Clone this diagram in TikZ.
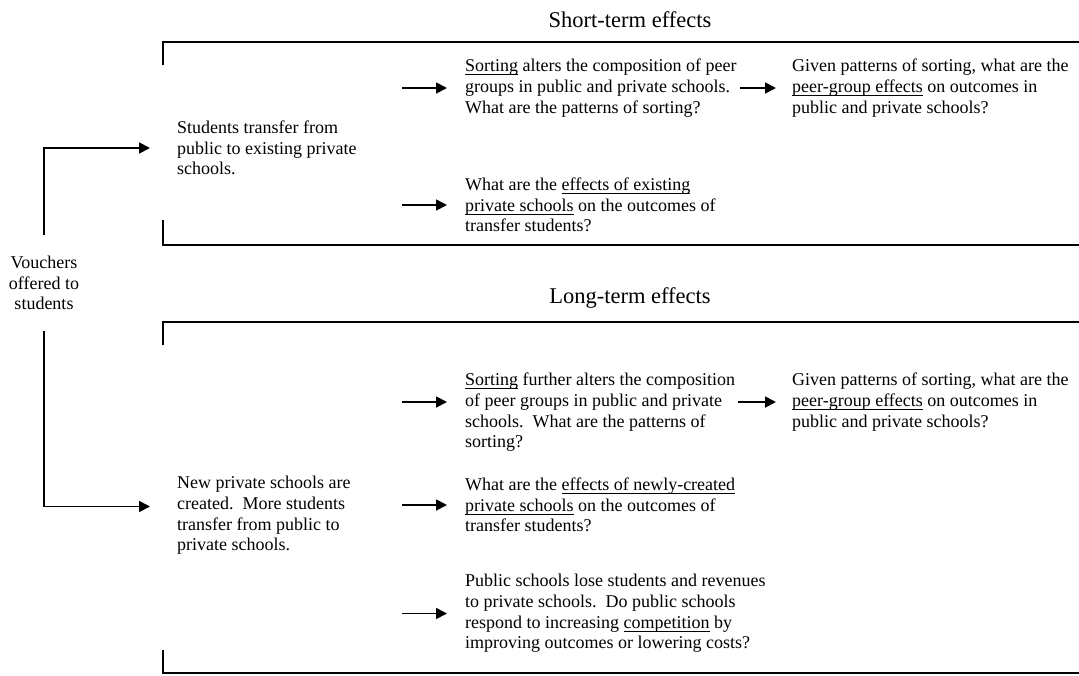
\documentclass[tikz,border=0pt]{standalone}
\usepackage{fontspec}
\setmainfont{Liberation Serif}
\usepackage{tikz}
\usetikzlibrary{arrows.meta}
\newcommand{\bodyfont}{\fontsize{18}{20.7}\selectfont}
\newcommand{\headfont}{\fontsize{22.5}{27}\selectfont}
\newcommand{\undl}[1]{\setbox0\hbox{#1}\rlap{\rule[-3.6pt]{\wd0}{1.1pt}}\box0\relax}
\tikzstyle{txt} = [inner sep=0pt, align=left, anchor=west, font=\bodyfont]
\tikzstyle{head} = [inner sep=0pt, font=\headfont]
\tikzstyle{frame} = [line width=1.8pt]
\tikzstyle{arrow} = [-{Triangle[length=11pt,width=11pt]}, line width=1.8pt]

\begin{document}
\begin{tikzpicture}[x=1pt, y=-1pt]
    \useasboundingbox (0,0) rectangle (1079,675);

    % short-term
    \node (shortT) [head] at (630,20) {Short-term effects};
    \draw [frame] (163,65) -- (163,42) -- (1079,42);
    \draw [frame] (163,220) -- (163,245) -- (1079,245);

    \node (stuS)   [txt] at (177,148)
      {Students transfer from\\public to existing private\\schools.};
    \node (sortS)  [txt] at (465,88)
      {\undl{Sorting} alters the composition of peer\\groups in public and
        private schools.\\What are the patterns of sorting?};
    \node (givenS) [txt] at (792,88)
      {Given patterns of sorting, what are the\\\undl{peer-group effects}
        on outcomes in\\public and private schools?};
    \node (effS)   [txt] at (465,205)
      {What are the \undl{effects of existing}\\\undl{private schools}
        on the outcomes of\\transfer students?};

    % long-term
    \node (longT) [head] at (630,298) {Long-term effects};
    \draw [frame] (163,345) -- (163,322) -- (1079,322);
    \draw [frame] (163,650) -- (163,673) -- (1079,673);

    \node (newL)   [txt] at (177,515.5)
      {New private schools are\\created.\ \ More students\\transfer from public to\\
        private schools.};
    \node (sortL)  [txt] at (465,412.5)
      {\undl{Sorting} further alters the composition\\of peer groups in
        public and private\\schools.\ \ What are the patterns of\\sorting?};
    \node (givenL) [txt] at (792,402)
      {Given patterns of sorting, what are the\\\undl{peer-group effects}
        on outcomes in\\public and private schools?};
    \node (effL)   [txt] at (465,505)
      {What are the \undl{effects of newly-created}\\\undl{private schools}
        on the outcomes of\\transfer students?};
    \node (pubL)   [txt] at (465,613.5)
      {Public schools lose students and revenues\\to private schools.\ \ Do public
        schools\\respond to increasing \undl{competition} by\\improving
        outcomes or lowering costs?};

    % vouchers
    \node (vouch) [font=\bodyfont, align=center, inner xsep=0pt, inner ysep=21pt]
      at (44,283) {Vouchers\\offered to\\students};

    \draw [arrow, shorten >=27pt] (vouch.north) |- (stuS.west);
    \draw [arrow, shorten >=27pt] (vouch.south) |- ([yshift=9pt]newL.west);

    \draw [arrow, shorten >=18pt] ([xshift=-63pt]sortS.west) -- (sortS.west);
    \draw [arrow, shorten >=18pt] ([xshift=-63pt]effS.west)  -- (effS.west);
    \draw [arrow, shorten >=16pt] ([xshift=3pt]sortS.east |- givenS.west) -- (givenS.west);

    \draw [arrow, shorten >=18pt] ([xshift=-63pt]sortL.west |- givenL.west) -- (sortL.west |- givenL.west);
    \draw [arrow, shorten >=18pt] ([xshift=-63pt]effL.west)  -- (effL.west);
    \draw [arrow, shorten >=18pt] ([xshift=-63pt]pubL.west)  -- (pubL.west);
    \draw [arrow, shorten >=16pt] ([xshift=3pt]sortL.east |- givenL.west) -- (givenL.west);
\end{tikzpicture}
\end{document}
